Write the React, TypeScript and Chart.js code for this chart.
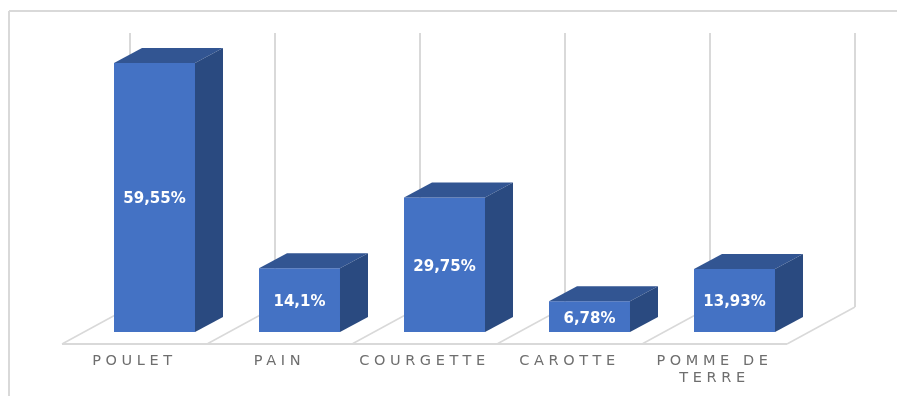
import React, { useEffect, useRef } from "react";
import { Chart, registerables } from "chart.js";

Chart.register(...registerables);

const categories: (string | string[])[] = ["POULET", "PAIN", "COURGETTE", "CAROTTE", ["POMME DE", "TERRE"]];
const shares = [59.55, 14.1, 29.75, 6.78, 13.93];

const FRONT = "#4472C4";
const TOP = "#325592";
const SIDE = "#2A4A80";
const GRID = "#D9D9D9";
const TEXT = "#6E6E6E";

// Offset of the back wall from the front edge of the floor.
const WALL_DX = 68;
const WALL_DY = 37;
// Offset of the bars from the front edge of the floor.
const BAR_DX = 20;
// Extrusion of each bar.
const DEPTH_DX = 28;
const DEPTH_DY = 15;

function poly(ctx: CanvasRenderingContext2D, pts: number[][], fill: string) {
  ctx.beginPath();
  pts.forEach(([x, y], i) => (i ? ctx.lineTo(x, y) : ctx.moveTo(x, y)));
  ctx.closePath();
  ctx.fillStyle = fill;
  ctx.fill();
}

function line(ctx: CanvasRenderingContext2D, x1: number, y1: number, x2: number, y2: number, w = 2) {
  ctx.beginPath();
  ctx.moveTo(x1, y1);
  ctx.lineTo(x2, y2);
  ctx.lineWidth = w;
  ctx.strokeStyle = GRID;
  ctx.stroke();
}

// Frame, floor and back wall of the 3D column chart, plus the spaced-out axis lettering.
const stage = {
  id: "stage",
  beforeDraw(chart: any) {
    const { ctx, scales } = chart;
    const { left, right, bottom, top } = chart.chartArea;
    const step = (right - left) / categories.length;
    ctx.save();
    line(ctx, 9, 11, 897, 11);
    line(ctx, 9, 11, 9, 396);
    line(ctx, left, bottom, right, bottom);
    for (let i = 0; i <= categories.length; i++) {
      const x = scales.x.left + step * i;
      line(ctx, x, bottom, x + WALL_DX, bottom - WALL_DY, 1.5);
      line(ctx, x + WALL_DX, bottom - WALL_DY, x + WALL_DX, top);
    }
    ctx.restore();
    ctx.letterSpacing = "4.6px";
  },
  beforeDatasetsDraw(chart: any) {
    const { ctx } = chart;
    ctx.letterSpacing = "0px";
    ctx.save();
    ctx.translate(BAR_DX, 0);
  },
  afterDatasetsDraw(chart: any) {
    const { ctx } = chart;
    ctx.restore();
    chart.getDatasetMeta(0).data.forEach((bar: any, i: number) => {
      const l = bar.x - bar.width / 2 + BAR_DX;
      const r = bar.x + bar.width / 2 + BAR_DX;
      const t = bar.y;
      const b = bar.base;
      poly(ctx, [[l, t], [r, t], [r + DEPTH_DX, t - DEPTH_DY], [l + DEPTH_DX, t - DEPTH_DY]], TOP);
      poly(ctx, [[r, t], [r + DEPTH_DX, t - DEPTH_DY], [r + DEPTH_DX, b - DEPTH_DY], [r, b]], SIDE);
      ctx.save();
      ctx.fillStyle = "#FFFFFF";
      ctx.font = 'bold 15px "DejaVu Sans"';
      ctx.textAlign = "center";
      ctx.textBaseline = "middle";
      ctx.fillText(`${String(shares[i]).replace(".", ",")}%`, (l + r) / 2, (t + b) / 2 + 2);
      ctx.restore();
    });
  },
};

export default function App() {
  const ref = useRef<HTMLCanvasElement>(null);
  useEffect(() => {
    const chart = new Chart(ref.current!, {
      type: "bar",
      data: {
        labels: categories,
        datasets: [{
          data: shares,
          backgroundColor: FRONT,
          categoryPercentage: 1,
          barPercentage: 0.5586,
        }],
      },
      plugins: [stage],
      options: {
        animation: false,
        responsive: false,
        layout: { padding: { left: 62, right: 110, top: 33, bottom: 0 } },
        plugins: { legend: { display: false }, tooltip: { enabled: false } },
        scales: {
          x: {
            afterFit: (s: any) => { s.height = 52; },
            border: { display: false },
            grid: { display: false },
            ticks: {
              color: TEXT,
              font: { family: "DejaVu Sans", size: 14.5, lineHeight: 1.17 },
              padding: 1,
              maxRotation: 0,
              minRotation: 0,
              autoSkip: false,
            },
          },
          y: {
            display: false,
            min: -2.66,
            max: 66.2,
          },
        },
      },
    });
    return () => chart.destroy();
  }, []);
  return (
    <div style={{ position: "absolute", left: 0, top: 0, width: 897, height: 396, background: "#fff" }}>
      <canvas ref={ref} width={897} height={396} style={{ display: "block" }} />
    </div>
  );
}
